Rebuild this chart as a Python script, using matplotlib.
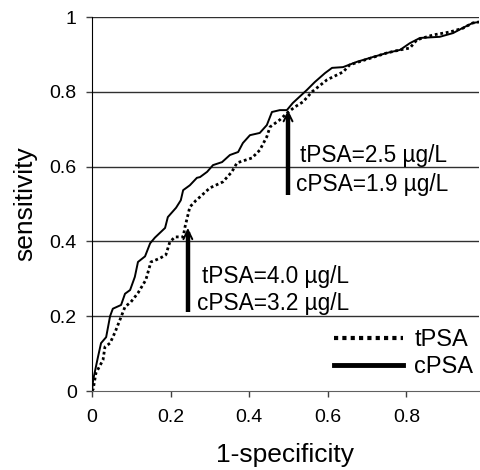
import matplotlib
matplotlib.use("Agg")
from matplotlib import pyplot as plt
from matplotlib.lines import Line2D

plt.rcParams['font.family'] = ['Liberation Sans', 'DejaVu Sans']

# ROC curve, cPSA (solid)
fpr_c = [0, 0.003, 0.015, 0.023, 0.036, 0.046, 0.053, 0.074, 0.084, 0.097,
         0.109, 0.117, 0.135, 0.148, 0.16, 0.186, 0.193, 0.214, 0.226, 0.232,
         0.249, 0.267, 0.275, 0.293, 0.308, 0.331, 0.351, 0.372, 0.384, 0.402,
         0.427, 0.445, 0.458, 0.478, 0.496, 0.511, 0.547, 0.567, 0.593, 0.611,
         0.639, 0.674, 0.715, 0.751, 0.784, 0.809, 0.835, 0.885, 0.919, 0.944,
         0.969, 0.987]
tpr_c = [0, 0.03, 0.09, 0.128, 0.144, 0.2, 0.22, 0.23, 0.26, 0.27,
         0.305, 0.345, 0.36, 0.395, 0.41, 0.436, 0.465, 0.49, 0.51, 0.537,
         0.55, 0.57, 0.572, 0.586, 0.604, 0.612, 0.631, 0.639, 0.663, 0.684,
         0.69, 0.711, 0.746, 0.751, 0.751, 0.77, 0.805, 0.826, 0.85, 0.864,
         0.866, 0.88, 0.893, 0.904, 0.912, 0.93, 0.944, 0.947, 0.957, 0.971,
         0.984, 0.987]

# ROC curve, tPSA (dotted)
fpr_t = [0, 0.003, 0.01, 0.028, 0.033, 0.046, 0.059, 0.074, 0.084, 0.099,
         0.117, 0.137, 0.15, 0.173, 0.188, 0.198, 0.211, 0.232, 0.237, 0.244,
         0.249, 0.265, 0.275, 0.3, 0.333, 0.356, 0.369, 0.407, 0.427, 0.445,
         0.453, 0.478, 0.496, 0.517, 0.537, 0.56, 0.598, 0.639, 0.656, 0.7,
         0.751, 0.784, 0.809, 0.827, 0.868, 0.911, 0.944, 0.969, 0.987]
tpr_t = [0, 0.005, 0.048, 0.083, 0.118, 0.128, 0.158, 0.198, 0.225, 0.238,
         0.262, 0.297, 0.345, 0.355, 0.364, 0.398, 0.412, 0.412, 0.44, 0.47,
         0.492, 0.51, 0.519, 0.543, 0.559, 0.586, 0.61, 0.623, 0.644, 0.68,
         0.706, 0.725, 0.743, 0.76, 0.773, 0.8, 0.832, 0.853, 0.872, 0.887,
         0.904, 0.912, 0.917, 0.939, 0.952, 0.96, 0.97, 0.984, 0.987]

# cut-off arrows: x, y start, y tip, labels
cut_x = [0.244, 0.499]
cut_y0 = [0.211, 0.524]
cut_y1 = [0.436, 0.751]
cut_t = ["tPSA=4.0 µg/L", "tPSA=2.5 µg/L"]
cut_c = ["cPSA=3.2 µg/L", "cPSA=1.9 µg/L"]

fig = plt.figure(figsize=(4.8, 4.7), dpi=100)
ax = fig.add_axes([92 / 480, 1 - 391 / 470, 387 / 480, 374 / 470])

for y in [0.2, 0.4, 0.6, 0.8, 1.0]:
    ax.axhline(y, color='#303030', lw=1, zorder=1)

ax.plot(fpr_t, tpr_t, color='black', lw=2, linestyle=(0, (1, 1)),
        dash_capstyle='butt', zorder=3)
ax.plot(fpr_c, tpr_c, color='black', lw=1.4, zorder=3)

# thick shaft + thin open head
for x, y0, y1 in zip(cut_x, cut_y0, cut_y1):
    ax.vlines(x, y0, y1 - 0.012, color='black', lw=3.2, zorder=4)
    ax.annotate('', xy=(x, y1), xytext=(x, y1 - 0.05),
                arrowprops=dict(arrowstyle='->,head_width=0.32,head_length=0.65',
                                lw=1.4, color='black', shrinkA=0, shrinkB=0),
                zorder=4)

ax.text(0.28, 0.305, cut_t[0], fontsize=16.3, va='center', ha='left')
ax.text(0.267, 0.235, cut_c[0], fontsize=16.3, va='center', ha='left')
ax.text(0.529, 0.631, cut_t[1], fontsize=16.3, va='center', ha='left')
ax.text(0.519, 0.553, cut_c[1], fontsize=16.3, va='center', ha='left')

ax.set_xlim(0, 0.985)
ax.set_ylim(0, 1)
ax.set_xticks([0, 0.2, 0.4, 0.6, 0.8])
ax.set_xticklabels(['0', '0.2', '0.4', '0.6', '0.8'])
ax.set_yticks([0, 0.2, 0.4, 0.6, 0.8, 1])
ax.set_yticklabels(['0', '0.2', '0.4', '0.6', '0.8', '1'])
ax.tick_params(labelsize=14, length=4, width=1, color='#404040')
ax.tick_params(axis='x', pad=9)
ax.tick_params(axis='y', pad=7)

for s in ['top', 'right']:
    ax.spines[s].set_visible(False)
ax.spines['left'].set_color('black')
ax.spines['bottom'].set_color('#606060')

ax.set_xlabel('1-specificity', fontsize=19, labelpad=12)
ax.set_ylabel('sensitivity', fontsize=19, labelpad=9)

handles = [Line2D([], [], color='black', lw=3, linestyle=(0, (1, 1)), dash_capstyle='butt'),
           Line2D([], [], color='black', lw=3.5)]
ax.legend(handles, ['tPSA', 'cPSA'], loc='lower right', frameon=False,
          fontsize=17, handlelength=2.9, handletextpad=0.5,
          labelspacing=0.2, borderaxespad=0.0, bbox_to_anchor=(1.01, 0.01))

fig.savefig('out.png', dpi=100)
